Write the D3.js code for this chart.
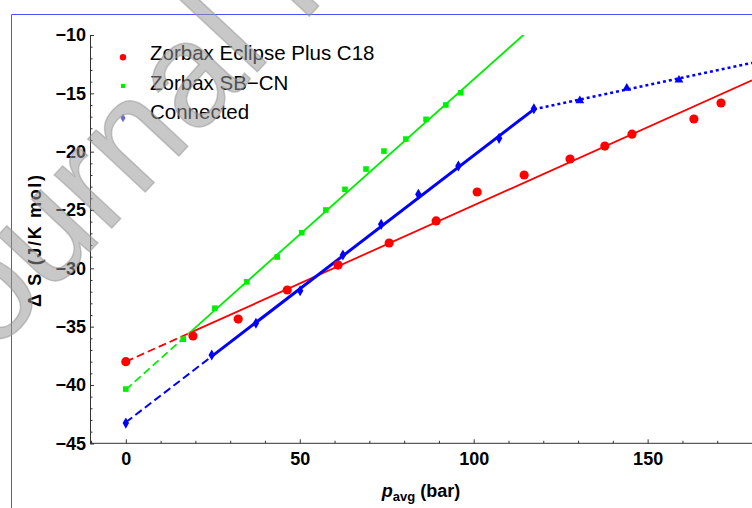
<!DOCTYPE html>
<html>
<head>
<meta charset="utf-8">
<script src="https://cdn.jsdelivr.net/npm/d3@7"></script>
<style>
  html, body { margin: 0; padding: 0; background: #fff; }
  svg { display: block; font-family: "Liberation Sans", Arial, sans-serif; }
</style>
</head>
<body>
<svg id="chart" width="752" height="508"></svg>
<script>
// Average column pressure (bar) vs. entropy change (J/K mol)
const pressureC18 = [0, 19.3, 32.3, 46.4, 61.0, 75.7, 89.2, 101.0, 114.5, 127.7, 137.7, 145.5, 163.3, 171.1];
const entropyC18  = [-38.0, -35.8, -34.35, -31.86, -29.72, -27.83, -25.94, -23.46, -22.0, -20.63, -19.52, -18.5, -17.2, -15.83];

const pressureCN = [0, 16.5, 25.6, 34.8, 43.5, 50.6, 57.5, 63.0, 69.05, 74.2, 80.5, 86.3, 92.0, 96.3];
const entropyCN  = [-40.35, -36.08, -33.42, -31.16, -29.03, -26.95, -25.0, -23.23, -21.49, -19.95, -18.92, -17.23, -16.0, -14.95];

const pressureConn = [0, 24.7, 37.4, 50.1, 62.4, 73.4, 84.1, 95.6, 107.3, 117.3];
const entropyConn  = [-43.27, -37.43, -34.71, -31.92, -28.86, -26.23, -23.66, -21.23, -18.86, -16.32];
const pressureConnHigh = [130.5, 144.0, 159.0];
const entropyConnHigh  = [-15.63, -14.55, -13.86];

// Linear fits: intercept, slope, and pressure ranges drawn dashed / solid
const seriesNames = ["Zorbax Eclipse Plus C18", "Zorbax SB\u2212CN", "Connected"];
const fitIntercepts = [-38.0, -40.4, -43.2];
const fitSlopes     = [0.134, 0.266, 0.2287];
const fitDashedRange = [[0, 19.2], [0, 19], [0, 24.7]];
const fitSolidRange  = [[19.2, 180], [19, 120], [24.7, 117.3]];
// Connected column beyond the break point
const highFitStart = [117.3, -16.37];
const highFitSlope = 0.0635;
const highFitEnd = 180;

const xTicks = [0, 50, 100, 150];
const yTicks = [-45, -40, -35, -30, -25, -20, -15, -10];

const svg = d3.select("#chart");
const W = 752, H = 508;

const x = d3.scaleLinear().domain([-10.3, 180]).range([90, 752]);
const y = d3.scaleLinear().domain([-45, -10]).range([443.3, 35]);

const RED = "#ff0000", GREEN = "#00ee00", BLUE = "#0000ff";
const colors = [RED, GREEN, BLUE];

// outer selection frame
svg.append("path")
  .attr("d", `M11.5,${H} L11.5,14.5 L${W},14.5`)
  .attr("fill", "none").attr("stroke", "#4f4fff").attr("stroke-width", 1);

svg.append("clipPath").attr("id", "plotClip")
  .append("rect").attr("x", 90).attr("y", y(-10)).attr("width", W - 90).attr("height", y(-45) - y(-10));

// axes
const axisColor = "#333";
const xMinor = d3.range(-10, 181, 10).filter(v => !xTicks.includes(v));
const yMinor = d3.range(-45, -9, 1).filter(v => !yTicks.includes(v));

const xAxisG = svg.append("g").attr("transform", `translate(0,${y(-45)})`);
xAxisG.call(d3.axisBottom(x).tickValues(xTicks).tickSize(-4).tickPadding(0).tickFormat(d3.format("d")));
xAxisG.select(".domain").attr("d", `M90,0H${W}`);
const xMinorG = svg.append("g").attr("transform", `translate(0,${y(-45)})`);
xMinorG.call(d3.axisBottom(x).tickValues(xMinor).tickSize(-2.5).tickFormat(""));
xMinorG.select(".domain").remove();

const yAxisG = svg.append("g").attr("transform", `translate(90,0)`);
yAxisG.call(d3.axisLeft(y).tickValues(yTicks).tickSize(-4).tickPadding(4)
  .tickFormat(d => (d < 0 ? "\u2212" : "") + Math.abs(d)));
const yMinorG = svg.append("g").attr("transform", `translate(90,0)`);
yMinorG.call(d3.axisLeft(y).tickValues(yMinor).tickSize(-2.5).tickFormat(""));
yMinorG.select(".domain").remove();

[xAxisG, xMinorG, yAxisG, yMinorG].forEach(g => {
  g.selectAll("line").attr("stroke", axisColor);
  g.selectAll(".domain").attr("stroke", axisColor);
});
xAxisG.selectAll("text").attr("font-size", 18).attr("font-weight", "bold").attr("fill", "#000")
  .attr("font-family", "'Liberation Sans', Arial, sans-serif").attr("y", 22).attr("dy", null);
yAxisG.selectAll("text").attr("font-size", 18).attr("font-weight", "bold").attr("fill", "#000")
  .attr("font-family", "'Liberation Sans', Arial, sans-serif").attr("x", -4);

// axis titles
const xl = svg.append("text").attr("x", 421).attr("y", 497).attr("text-anchor", "middle")
  .attr("font-size", 18).attr("font-weight", "bold").attr("fill", "#000");
xl.append("tspan").attr("font-style", "italic").text("p");
xl.append("tspan").attr("font-size", 13).attr("dy", 4).text("avg");
xl.append("tspan").attr("dy", -4).text(" (bar)");

svg.append("text").attr("transform", "translate(41,241) rotate(-90)")
  .attr("text-anchor", "middle").attr("font-size", 18).attr("font-weight", "bold").attr("fill", "#000")
  .attr("textLength", 132).attr("lengthAdjust", "spacing")
  .text("\u0394 S (J/K mol)");

// fit lines
const plot = svg.append("g").attr("clip-path", "url(#plotClip)");
const line = d3.line().x(d => x(d[0])).y(d => y(d[1]));
const fitPts = (i, r) => r.map(p => [p, fitIntercepts[i] + fitSlopes[i] * p]);

[0, 1, 2].forEach(i => {
  plot.append("path").attr("d", line(fitPts(i, fitDashedRange[i])))
    .attr("fill", "none").attr("stroke", colors[i]).attr("stroke-width", i === 2 ? 2 : 1.8)
    .attr("stroke-dasharray", "8,4");
  plot.append("path").attr("d", line(fitPts(i, fitSolidRange[i])))
    .attr("fill", "none").attr("stroke", colors[i]).attr("stroke-width", i === 2 ? 3 : 1.8);
});
plot.append("path")
  .attr("d", line([highFitStart, [highFitEnd, highFitStart[1] + highFitSlope * (highFitEnd - highFitStart[0])]]))
  .attr("fill", "none").attr("stroke", BLUE).attr("stroke-width", 2.5).attr("stroke-dasharray", "3,3");

// data points
const pts = svg.append("g");
pressureC18.forEach((p, i) => {
  pts.append("circle").attr("cx", x(p)).attr("cy", y(entropyC18[i])).attr("r", 4.6).attr("fill", RED);
});
const sq = 5.6;
pressureCN.forEach((p, i) => {
  pts.append("rect").attr("x", x(p) - sq / 2).attr("y", y(entropyCN[i]) - sq / 2)
    .attr("width", sq).attr("height", sq).attr("fill", GREEN);
});
const diamond = d3.symbol().type(d3.symbolDiamond).size(36);
pressureConn.forEach((p, i) => {
  pts.append("path").attr("d", diamond()).attr("transform", `translate(${x(p)},${y(entropyConn[i])})`)
    .attr("fill", BLUE);
});
const tri = d3.symbol().type(d3.symbolTriangle).size(34);
pressureConnHigh.forEach((p, i) => {
  pts.append("path").attr("d", tri()).attr("transform", `translate(${x(p)},${y(entropyConnHigh[i])})`)
    .attr("fill", BLUE);
});

// legend
const legendY = [60, 90, 119];
const lg = svg.append("g");
seriesNames.forEach((name, i) => {
  lg.append("text").attr("x", 150).attr("y", legendY[i]).attr("font-size", 20.5).attr("fill", "#000").text(name);
});
lg.append("circle").attr("cx", 123).attr("cy", 57.3).attr("r", 3.2).attr("fill", RED);
lg.append("rect").attr("x", 121).attr("y", 84).attr("width", 4).attr("height", 4).attr("fill", GREEN);
lg.append("path").attr("d", d3.symbol().type(d3.symbolDiamond).size(22)())
  .attr("transform", "translate(123,118)").attr("fill", "#6a6ad8");

// watermark
svg.append("text").attr("transform", "translate(-58,410) rotate(-47)")
  .attr("font-size", 148).attr("fill", "#979797").attr("fill-opacity", 0.53)
  .attr("stroke", "#979797").attr("stroke-opacity", 0.53).attr("stroke-width", 1.5)
  .text("Journal Pre-proof");
</script>
</body>
</html>
